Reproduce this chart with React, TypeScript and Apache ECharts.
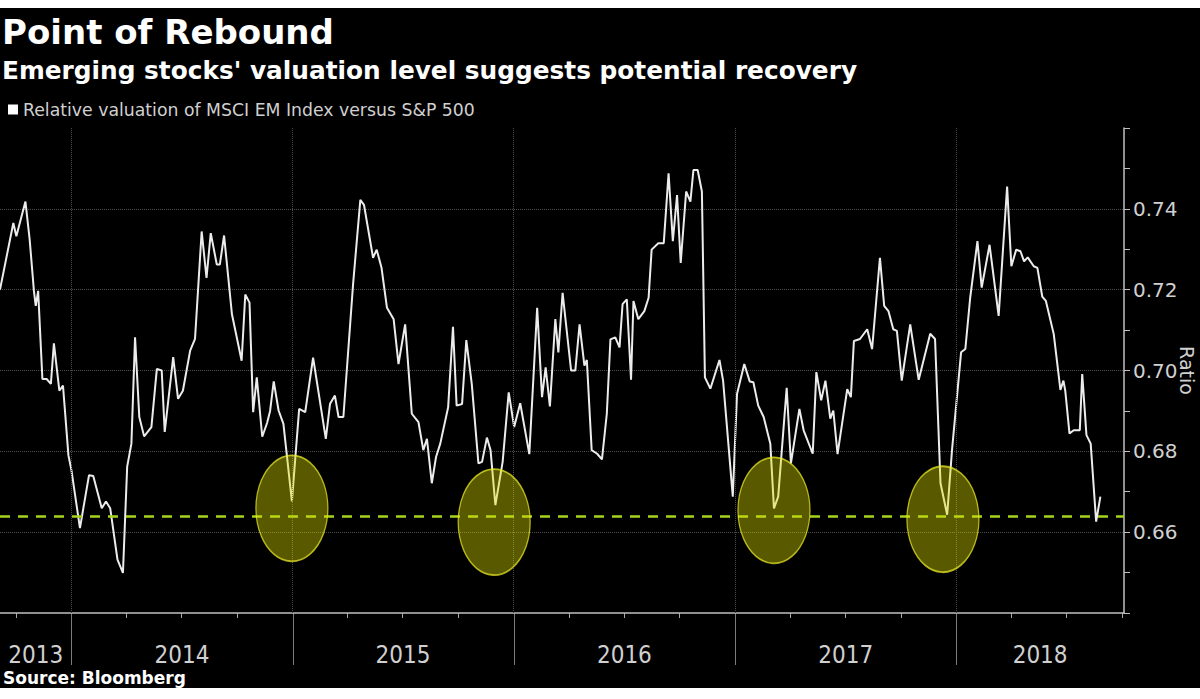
import React, { useEffect, useRef } from "react";
import * as echarts from "echarts";

const TITLE = "Point of Rebound";
const SUBTITLE = "Emerging stocks' valuation level suggests potential recovery";
const SERIES_NAME = "Relative valuation of MSCI EM Index versus S&P 500";
const SOURCE = "Source: Bloomberg";
const Y_AXIS_NAME = "Ratio";

const dates = [
  "2013-09-05", "2013-09-27", "2013-10-02", "2013-10-17", "2013-10-24", "2013-10-31", "2013-11-03", "2013-11-07",
  "2013-11-14", "2013-11-21", "2013-11-28", "2013-12-03", "2013-12-12", "2013-12-18", "2013-12-27", "2014-01-01",
  "2014-01-15", "2014-01-30", "2014-02-06", "2014-02-20", "2014-02-27", "2014-03-06", "2014-03-18", "2014-03-27",
  "2014-04-03", "2014-04-10", "2014-04-16", "2014-04-23", "2014-05-01", "2014-05-13", "2014-05-22", "2014-05-30",
  "2014-06-04", "2014-06-18", "2014-06-26", "2014-07-04", "2014-07-16", "2014-07-24", "2014-08-04", "2014-08-12",
  "2014-08-19", "2014-08-29", "2014-09-03", "2014-09-10", "2014-09-23", "2014-10-09", "2014-10-15", "2014-10-22",
  "2014-10-28", "2014-11-03", "2014-11-12", "2014-11-20", "2014-11-25", "2014-12-01", "2014-12-09", "2014-12-17",
  "2014-12-31", "2015-01-12", "2015-01-22", "2015-02-04", "2015-02-25", "2015-03-04", "2015-03-12", "2015-03-18",
  "2015-03-26", "2015-04-11", "2015-04-23", "2015-04-29", "2015-05-14", "2015-05-20", "2015-05-28", "2015-06-06",
  "2015-06-17", "2015-06-25", "2015-07-06", "2015-07-17", "2015-07-28", "2015-08-05", "2015-08-11", "2015-08-19",
  "2015-08-26", "2015-09-02", "2015-09-15", "2015-09-23", "2015-09-29", "2015-10-08", "2015-10-15", "2015-10-24",
  "2015-11-04", "2015-11-10", "2015-11-18", "2015-11-24", "2015-12-02", "2015-12-14", "2015-12-24", "2016-01-02",
  "2016-01-12", "2016-01-27", "2016-02-09", "2016-02-17", "2016-02-23", "2016-03-01", "2016-03-10", "2016-03-15",
  "2016-03-22", "2016-04-05", "2016-04-12", "2016-04-19", "2016-04-27", "2016-05-01", "2016-05-09", "2016-05-18",
  "2016-05-26", "2016-06-03", "2016-06-09", "2016-06-17", "2016-06-24", "2016-06-29", "2016-07-06", "2016-07-13",
  "2016-07-17", "2016-07-25", "2016-08-04", "2016-08-11", "2016-08-16", "2016-08-27", "2016-09-05", "2016-09-13",
  "2016-09-20", "2016-09-27", "2016-10-03", "2016-10-12", "2016-10-19", "2016-10-24", "2016-10-31", "2016-11-07",
  "2016-11-12", "2016-11-21", "2016-12-06", "2016-12-12", "2016-12-28", "2017-01-04", "2017-01-16", "2017-01-25",
  "2017-01-31", "2017-02-08", "2017-02-17", "2017-02-28", "2017-03-06", "2017-03-13", "2017-03-27", "2017-04-03",
  "2017-04-17", "2017-04-24", "2017-05-09", "2017-05-15", "2017-05-23", "2017-05-30", "2017-06-07", "2017-06-12",
  "2017-06-19", "2017-07-05", "2017-07-11", "2017-07-16", "2017-07-26", "2017-08-07", "2017-08-15", "2017-08-28",
  "2017-09-04", "2017-09-11", "2017-09-19", "2017-09-25", "2017-10-03", "2017-10-17", "2017-10-31", "2017-11-19",
  "2017-11-27", "2017-12-06", "2017-12-17", "2017-12-25", "2018-01-09", "2018-01-16", "2018-01-24", "2018-02-05",
  "2018-02-12", "2018-02-25", "2018-03-12", "2018-03-19", "2018-03-26", "2018-04-02", "2018-04-10", "2018-04-17",
  "2018-04-23", "2018-04-29", "2018-05-09", "2018-05-15", "2018-05-23", "2018-05-29", "2018-06-11", "2018-06-22",
  "2018-06-27", "2018-06-30", "2018-07-07", "2018-07-14", "2018-07-24", "2018-07-28", "2018-08-04", "2018-08-11",
  "2018-08-20", "2018-08-27",
];

const ratios = [
  0.72, 0.7365, 0.7332, 0.7418, 0.7324, 0.7197, 0.716, 0.7197,
  0.6979, 0.6979, 0.6967, 0.7067, 0.695, 0.6963, 0.679, 0.6753,
  0.661, 0.6741, 0.6739, 0.6659, 0.6676, 0.6659, 0.6532, 0.6499,
  0.6762, 0.6819, 0.7082, 0.6885, 0.6837, 0.686, 0.7004, 0.7,
  0.6848, 0.7033, 0.693, 0.695, 0.7049, 0.7078, 0.7344, 0.7229,
  0.734, 0.7262, 0.7262, 0.7334, 0.7139, 0.7024, 0.7188, 0.7168,
  0.6897, 0.6983, 0.6836, 0.687, 0.69, 0.6973, 0.6901, 0.6868,
  0.6676, 0.6905, 0.6897, 0.7032, 0.6831, 0.6918, 0.6938, 0.6885,
  0.6885, 0.7213, 0.7422, 0.741, 0.7279, 0.7299, 0.7254, 0.7155,
  0.7127, 0.7016, 0.7114, 0.6893, 0.6872, 0.6803, 0.6831, 0.6721,
  0.6786, 0.6819, 0.6909, 0.7108, 0.6913, 0.6917, 0.7075, 0.6967,
  0.677, 0.6774, 0.6834, 0.6803, 0.6667, 0.6774, 0.6946, 0.686,
  0.6919, 0.6793, 0.7155, 0.6934, 0.7008, 0.6911, 0.7127, 0.7045,
  0.7192, 0.7, 0.7, 0.7114, 0.7012, 0.7026, 0.6803, 0.6794,
  0.678, 0.6893, 0.7077, 0.7082, 0.7057, 0.7164, 0.7176, 0.6977,
  0.7172, 0.7127, 0.7147, 0.718, 0.7299, 0.7315, 0.7315, 0.7488,
  0.732, 0.7434, 0.7266, 0.7443, 0.7418, 0.7496, 0.7496, 0.7443,
  0.6983, 0.6955, 0.7026, 0.6975, 0.6688, 0.6942, 0.7016, 0.6973,
  0.6971, 0.6913, 0.6885, 0.6819, 0.6659, 0.6688, 0.6957, 0.677,
  0.6905, 0.6852, 0.6794, 0.6996, 0.6926, 0.6975, 0.6881, 0.6901,
  0.6793, 0.6954, 0.6934, 0.7073, 0.7078, 0.7102, 0.7053, 0.7279,
  0.716, 0.7147, 0.7102, 0.7098, 0.6975, 0.7114, 0.6977, 0.7091,
  0.7078, 0.6721, 0.6643, 0.6803, 0.7045, 0.7053, 0.718, 0.732,
  0.7205, 0.7311, 0.7135, 0.7295, 0.7455, 0.7258, 0.7299, 0.7295,
  0.727, 0.728, 0.7258, 0.7254, 0.7183, 0.7172, 0.709, 0.6952,
  0.6975, 0.695, 0.6844, 0.6852, 0.6852, 0.6991, 0.684, 0.6819,
  0.6626, 0.6688,
];

const REBOUND_LEVEL = 0.664;
const reboundDates = ["2014-12-31", "2015-11-30", "2017-03-06", "2017-12-10"];
const reboundCentres = [0.6659, 0.6625, 0.6654, 0.6632];

const X_MIN = "2013-09-05";
const X_MAX = "2018-10-05";
const yearBoundaries = ["2014-01-01", "2015-01-01", "2016-01-01", "2017-01-01", "2018-01-01"];
const yearLabels = ["2013", "2014", "2015", "2016", "2017", "2018"];
const quarterTicks = [
  "2013-10-01",
  "2014-04-01", "2014-07-01", "2014-10-01",
  "2015-04-01", "2015-07-01", "2015-10-01",
  "2016-04-01", "2016-07-01", "2016-10-01",
  "2017-04-01", "2017-07-01", "2017-10-01",
  "2018-04-01", "2018-07-01", "2018-10-01",
];

const Y_MIN = 0.64;
const Y_MAX = 0.76;
const Y_STEP = 0.02;

const FONT = "'DejaVu Sans', sans-serif";
const NARROW = "'Liberation Sans Narrow', 'DejaVu Sans Condensed', sans-serif";

const parseT = (d: string) => {
  const [y, m, dd] = d.split("-").map(Number);
  return new Date(y, m - 1, dd).getTime();
};

export default function App() {
  const ref = useRef<HTMLDivElement>(null);

  useEffect(() => {
    document.body.style.margin = "0";
    document.body.style.overflow = "hidden";
    const chart = echarts.init(ref.current as HTMLDivElement, null, {
      renderer: "svg",
      width: 1200,
      height: 680,
    });

    const option: any = {
      animation: false,
      backgroundColor: "#000000",
      title: [
        {
          text: TITLE,
          left: 2,
          top: 7,
          padding: 0,
          textStyle: { color: "#ffffff", fontSize: 34, fontWeight: "bold", fontFamily: FONT },
        },
        {
          text: SUBTITLE,
          left: 2,
          top: 50,
          padding: 0,
          textStyle: { color: "#ffffff", fontSize: 24.8, fontWeight: "bold", fontFamily: FONT },
        },
        {
          text: SOURCE,
          left: 3,
          top: 661,
          padding: 0,
          textStyle: { color: "#ffffff", fontSize: 17, fontWeight: "bold", fontFamily: FONT },
        },
      ],
      legend: {
        data: [SERIES_NAME],
        left: 8,
        top: 93,
        padding: 0,
        icon: "rect",
        itemWidth: 10,
        itemHeight: 10,
        selectedMode: false,
        textStyle: { color: "#d0d0d0", fontSize: 17.3, fontFamily: FONT },
      },
      grid: { left: 0, right: 76, top: 120, bottom: 75, containLabel: false, outerBoundsMode: "none" },
      xAxis: {
        type: "time",
        min: X_MIN,
        max: X_MAX,
        axisLine: { show: true, lineStyle: { color: "#c0c0c0", width: 1.5 } },
        axisTick: { show: false },
        axisLabel: { show: false },
        splitLine: { show: false },
      },
      yAxis: {
        type: "value",
        position: "right",
        min: Y_MIN,
        max: Y_MAX,
        interval: Y_STEP,
        axisLine: { show: true, lineStyle: { color: "#c0c0c0", width: 1.5 } },
        axisTick: { show: true, length: 6, lineStyle: { color: "#c0c0c0", width: 1 } },
        minorTick: { show: true, splitNumber: 2, length: 6, lineStyle: { color: "#c0c0c0", width: 1 } },
        axisLabel: {
          color: "#d0d0d0",
          fontSize: 20,
          fontFamily: FONT,
          margin: 9,
          formatter: (v: number) =>
            v <= Y_MIN + 1e-9 || v >= Y_MAX - 1e-9 ? "" : v.toFixed(2),
        },
        splitLine: {
          show: true,
          showMinLine: false,
          showMaxLine: false,
          lineStyle: { color: "#4e4e4e", type: "dotted", width: 1 },
        },
      },
      series: [
        {
          name: SERIES_NAME,
          type: "line",
          data: dates.map((d, i) => [d, ratios[i]]),
          showSymbol: false,
          symbol: "none",
          lineStyle: { color: "#ececec", width: 2 },
          itemStyle: { color: "#ffffff" },
          z: 3,
          markLine: {
            silent: true,
            precision: 4,
            symbol: ["none", "none"],
            label: { show: false },
            data: [
              ...yearBoundaries.map((d) => ({
                xAxis: d,
                lineStyle: { color: "#4e4e4e", type: "dotted", width: 1 },
              })),
              {
                yAxis: REBOUND_LEVEL,
                lineStyle: { color: "#a6d41e", type: [10, 8], width: 2.5 },
              },
            ],
          },
        },
        {
          name: "rebound",
          type: "scatter",
          data: reboundDates.map((d, i) => [d, reboundCentres[i]]),
          symbol: "circle",
          symbolSize: [72, 106],
          silent: true,
          z: 5,
          itemStyle: {
            color: "rgba(222, 222, 0, 0.5)",
            borderColor: "rgba(238, 238, 40, 0.9)",
            borderWidth: 1.5,
          },
        },
      ],
    };

    chart.setOption(option);

    const toX = (d: string) => chart.convertToPixel({ xAxisIndex: 0 }, parseT(d)) as number;
    const axisY = chart.convertToPixel({ yAxisIndex: 0 }, Y_MIN) as number;
    const topY = chart.convertToPixel({ yAxisIndex: 0 }, Y_MAX) as number;
    const axisX = chart.convertToPixel({ xAxisIndex: 0 }, parseT(X_MAX)) as number;
    const minT = parseT(X_MIN);
    const maxT = parseT(X_MAX);

    const elements: any[] = [];
    quarterTicks.forEach((d) => {
      const x = Math.round(toX(d)) + 0.5;
      elements.push({
        type: "line",
        silent: true,
        shape: { x1: x, y1: axisY, x2: x, y2: axisY + 5 },
        style: { stroke: "#a8a8a8", lineWidth: 1 },
      });
    });
    yearBoundaries.forEach((d) => {
      const x = Math.round(toX(d)) + 0.5;
      elements.push({
        type: "line",
        silent: true,
        shape: { x1: x, y1: axisY, x2: x, y2: axisY + 52 },
        style: { stroke: "#7a7a7a", lineWidth: 1 },
      });
    });
    yearLabels.forEach((yr) => {
      const s = Math.max(parseT(`${yr}-01-01`), minT);
      const e = Math.min(parseT(`${Number(yr) + 1}-01-01`), maxT);
      const xs = chart.convertToPixel({ xAxisIndex: 0 }, s) as number;
      const xe = chart.convertToPixel({ xAxisIndex: 0 }, e) as number;
      elements.push({
        type: "text",
        silent: true,
        x: (xs + xe) / 2,
        y: axisY + 42,
        style: {
          text: yr,
          fill: "#d0d0d0",
          font: `24px ${NARROW}`,
          align: "center",
          verticalAlign: "middle",
          textAlign: "center",
          textVerticalAlign: "middle",
        },
      });
    });
    elements.push({
      type: "text",
      silent: true,
      x: axisX + 63,
      y: (axisY + topY) / 2,
      rotation: -Math.PI / 2,
      style: {
        text: Y_AXIS_NAME,
        fill: "#d0d0d0",
        font: `19px ${FONT}`,
        align: "center",
        verticalAlign: "middle",
        textAlign: "center",
        textVerticalAlign: "middle",
      },
    });

    chart.setOption({ graphic: { elements } });

    return () => chart.dispose();
  }, []);

  return (
    <div style={{ background: "#ffffff", paddingTop: 8, width: 1200, height: 691 }}>
      <div ref={ref} style={{ width: 1200, height: 680 }} />
    </div>
  );
}
